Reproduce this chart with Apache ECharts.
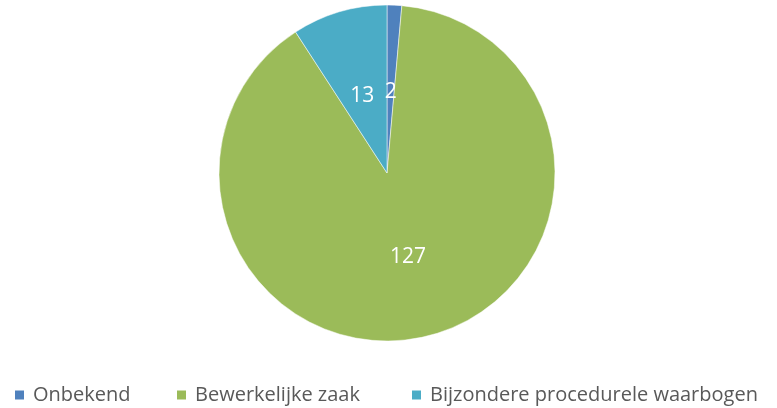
<!DOCTYPE html>
<html><head><meta charset="utf-8">
<script src="https://cdn.jsdelivr.net/npm/echarts@6/dist/echarts.min.js"></script>
<style>html,body{margin:0;padding:0;background:#fff}#c{width:777px;height:408px}</style>
</head><body><div id="c"></div>
<script>
const categories = ['Onbekend', 'Bewerkelijke zaak', 'Bijzondere procedurele waarbogen'];
const values = [2, 127, 13];
const colors = ['#4F81BD', '#9BBB59', '#4BACC6'];

const legendLeft = [13, 175, 410];
const labelOffsets = [[0, 6], [0, 0], [0, 6]];
const legendText = {fontFamily: 'Open Sans', fontSize: 20, color: '#595959', padding: [0, 0, 0, 3]};

const chart = echarts.init(document.getElementById('c'), null, {renderer: 'canvas'});
chart.setOption({
  animation: false,
  color: colors,
  legend: categories.map((n, i) => ({
    top: 385,
    left: legendLeft[i],
    padding: 0,
    itemWidth: 11, itemHeight: 11,
    icon: 'rect',
    textStyle: legendText,
    data: [n]
  })),
  series: [{
    type: 'pie',
    center: [387, 173],
    radius: [0, 168],
    startAngle: 90,
    clockwise: true,
    itemStyle: {borderColor: '#fff', borderWidth: 0.5},
    label: {position: 'inside', formatter: '{c}', color: '#fff', fontFamily: 'Open Sans', fontSize: 21},
    labelLine: {show: false},
    data: categories.map((n, i) => ({name: n, value: values[i], label: {offset: labelOffsets[i]}}))
  }]
});
</script></body></html>
